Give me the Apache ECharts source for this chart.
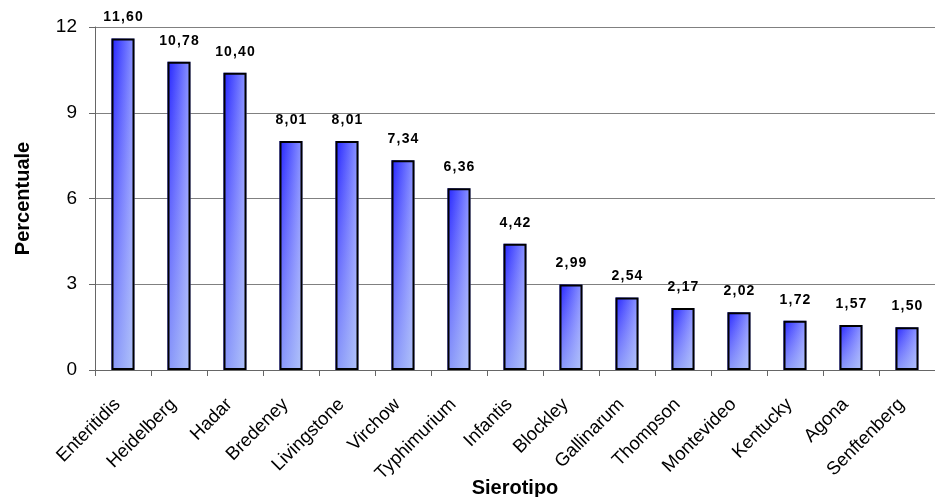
<!DOCTYPE html>
<html>
<head>
<meta charset="utf-8">
<script src="https://cdn.jsdelivr.net/npm/echarts@6/dist/echarts.min.js"></script>
<style>
  html, body { margin: 0; padding: 0; background: #fff; }
  #chart { width: 935px; height: 497px; }
</style>
</head>
<body>
<div id="chart"></div>
<script>
// Serotype categories and their percentage shares
const categories = ['Enteritidis', 'Heidelberg', 'Hadar', 'Bredeney', 'Livingstone', 'Virchow',
  'Typhimurium', 'Infantis', 'Blockley', 'Gallinarum', 'Thompson', 'Montevideo', 'Kentucky',
  'Agona', 'Senftenberg'];
const values = [11.60, 10.78, 10.40, 8.01, 8.01, 7.34, 6.36, 4.42, 2.99, 2.54, 2.17, 2.02, 1.72, 1.57, 1.50];
const yTicks = [0, 3, 6, 9, 12];

const chart = echarts.init(document.getElementById('chart'), null, { renderer: 'canvas' });

// Horizontal blue shading for the bar body
const barFill = new echarts.graphic.LinearGradient(0, 0, 1, 0, [
  { offset: 0, color: '#2424ff' },
  { offset: 1, color: '#8c96ff' }
]);
// Vertical whitening laid over each bar, lighter towards the base
const barSheen = new echarts.graphic.LinearGradient(0, 0, 0, 1, [
  { offset: 0, color: 'rgba(255,255,255,0)' },
  { offset: 1, color: 'rgba(200,225,245,0.6)' }
]);

// Value label with a little breathing room between the digits
const fmt = v => v.toFixed(2).replace('.', ',').split('').join('\u200A');

chart.setOption({
  animation: false,
  textStyle: { fontFamily: 'Liberation Sans, Arial, sans-serif' },
  grid: { left: 95, right: 0, top: 27, bottom: 127, outerBoundsMode: 'none' },
  xAxis: {
    type: 'category',
    data: categories,
    name: 'Sierotipo',
    nameLocation: 'middle',
    nameGap: 108,
    nameMoveOverlap: false,
    nameTextStyle: { fontSize: 20, fontWeight: 'bold', color: '#000' },
    axisLine: { lineStyle: { color: '#666', width: 1 } },
    axisTick: { show: true, alignWithLabel: false, length: 6, lineStyle: { color: '#666' } },
    axisLabel: { rotate: 45, fontSize: 18.5, color: '#000', margin: 26, interval: 0, padding: [0, 8, 0, 0] }
  },
  yAxis: {
    type: 'value',
    min: yTicks[0],
    max: yTicks[yTicks.length - 1],
    interval: 3,
    name: 'Percentuale',
    nameLocation: 'middle',
    nameGap: 62,
    nameMoveOverlap: false,
    nameRotate: 90,
    nameTextStyle: { fontSize: 20, fontWeight: 'bold', color: '#000' },
    axisLine: { show: true, lineStyle: { color: '#666', width: 1 } },
    axisTick: { show: true, length: 6, lineStyle: { color: '#666' } },
    axisLabel: { fontSize: 19, color: '#000', margin: 18 },
    splitLine: { show: true, lineStyle: { color: '#808080', width: 1 } }
  },
  series: [{
    type: 'bar',
    data: values,
    barWidth: 23,
    itemStyle: { color: barFill, borderColor: '#000', borderWidth: 0 },
    label: {
      show: true,
      position: 'top',
      distance: 14,
      fontSize: 14,
      fontWeight: 'bold',
      color: '#000',
      formatter: p => fmt(p.value)
    }
  }, {
    type: 'bar',
    data: values,
    barWidth: 23,
    barGap: '-100%',
    silent: true,
    itemStyle: { color: barSheen, borderColor: '#000', borderWidth: 2 }
  }]
});
</script>
</body>
</html>
